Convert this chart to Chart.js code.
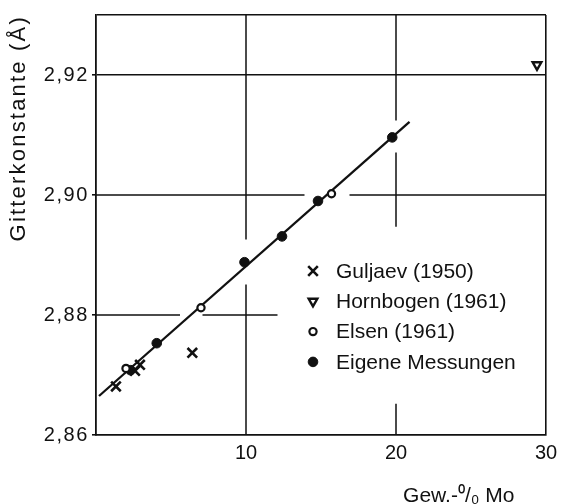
<!DOCTYPE html>
<html>
<head>
<meta charset="utf-8">
<script src="https://cdn.jsdelivr.net/npm/chart.js@4/dist/chart.umd.min.js"></script>
<style>
  html, body { margin: 0; padding: 0; background: #fff; }
  #wrap { width: 564px; height: 504px; }
</style>
</head>
<body>
<div id="wrap"><canvas id="chart"></canvas></div>
<script>
// ================= Data =================
const guljaevX = [1.33, 2.6, 2.93, 6.42];
const guljaevY = [2.8681, 2.8707, 2.8717, 2.8737];

const hornbogenX = [29.4];
const hornbogenY = [2.9217];

const elsenX = [2.0, 7.0, 15.7];
const elsenY = [2.8711, 2.8812, 2.9002];

const eigeneX = [2.3, 4.05, 9.9, 12.4, 14.8, 19.75];
const eigeneY = [2.8708, 2.8753, 2.8888, 2.8931, 2.899, 2.9096];

// fitted line (end points)
const fitX = [0.2, 20.9];
const fitY = [2.8665, 2.9122];

// broken grid lines, [x1, y1, x2, y2] in axis units
const gridSegments = [
  [0, 2.90, 13.9, 2.90],
  [16.9, 2.90, 30, 2.90],
  [0, 2.88, 5.6, 2.88],
  [7.1, 2.88, 12.1, 2.88],
  [10, 2.93, 10, 2.8926],
  [10, 2.8851, 10, 2.86],
  [20, 2.93, 20, 2.9124],
  [20, 2.9071, 20, 2.8947],
  [20, 2.8652, 20, 2.86]
];

const legendLabels = ["Guljaev (1950)", "Hornbogen (1961)", "Elsen (1961)", "Eigene Messungen"];
const xTicks = [10, 20, 30];
const yTicks = [2.86, 2.88, 2.90, 2.92];

const ink = "#111";
const fontFamily = "'Liberation Sans', Arial, sans-serif";

const zip = (xs, ys) => xs.map((x, i) => ({ x, y: ys[i] }));

const gridData = [];
gridSegments.forEach(s => {
  gridData.push({ x: s[0], y: s[1] }, { x: s[2], y: s[3] }, { x: s[2], y: null });
});

// loose tracking like the printed figure (title + tick labels of the y axis)
function spaced(scale, method, px) {
  if (scale["_sp_" + method]) return;
  const orig = scale[method];
  scale[method] = function () {
    this.ctx.save();
    this.ctx.letterSpacing = px;
    orig.apply(this, arguments);
    this.ctx.restore();
  };
  scale["_sp_" + method] = true;
}

// ================= Datasets =================
const pointSets = [
  { label: legendLabels[0], data: zip(guljaevX, guljaevY), pointStyle: "crossRot", pointRadius: 6.8, pointBorderWidth: 2.6, pointBackgroundColor: ink },
  { label: legendLabels[1], data: zip(hornbogenX, hornbogenY), pointStyle: "triangle", pointRotation: 180, pointRadius: 5, pointBorderWidth: 2.4, pointBackgroundColor: "#fff" },
  { label: legendLabels[2], data: zip(elsenX, elsenY), pointStyle: "circle", pointRadius: 3.6, pointBorderWidth: 2.2, pointBackgroundColor: "#fff" },
  { label: legendLabels[3], data: zip(eigeneX, eigeneY), pointStyle: "circle", pointRadius: 4.8, pointBorderWidth: 1, pointBackgroundColor: ink }
].map(d => Object.assign({ type: "scatter", showLine: false, pointBorderColor: ink, pointHoverRadius: d.pointRadius, isLegend: true }, d));

const datasets = pointSets.concat([
  { type: "line", label: "fit", data: zip(fitX, fitY), borderColor: ink, borderWidth: 2.3, pointRadius: 0, tension: 0 },
  { type: "line", label: "grid", data: gridData, borderColor: ink, borderWidth: 1.5, pointRadius: 0, spanGaps: false, tension: 0 }
]);

// ================= Legend inside plot =================
const insideLegend = {
  id: "insideLegend",
  afterDatasetsDraw(chart) {
    const ctx = chart.ctx;
    const area = chart.chartArea;
    const markX = area.left + 217;
    const textX = area.left + 240;
    let y = area.top + 256;
    ctx.save();
    ctx.font = "21px " + fontFamily;
    ctx.textBaseline = "middle";
    ctx.textAlign = "left";
    chart.data.datasets.filter(d => d.isLegend).forEach(d => {
      ctx.fillStyle = d.pointBackgroundColor;
      ctx.strokeStyle = ink;
      ctx.lineWidth = d.pointBorderWidth;
      Chart.helpers.drawPoint(ctx, {
        pointStyle: d.pointStyle,
        rotation: d.pointRotation || 0,
        radius: d.pointRadius,
        borderWidth: d.pointBorderWidth
      }, markX, y);
      ctx.fillStyle = ink;
      ctx.fillText(d.label, textX, y + 1);
      y += 30.3;
    });
    ctx.restore();
  }
};

// ================= Chart =================
new Chart(document.getElementById("chart"), {
  type: "scatter",
  data: { datasets },
  plugins: [insideLegend],
  options: {
    responsive: true,
    maintainAspectRatio: false,
    animation: false,
    layout: { padding: { top: 12, right: 18, left: 0, bottom: 0 } },
    plugins: { legend: { display: false }, tooltip: { enabled: false } },
    scales: {
      x: {
        type: "linear",
        min: 0, max: 30,
        afterBuildTicks: s => { s.ticks = [0].concat(xTicks).map(v => ({ value: v })); },
        afterFit: s => { s.height = 69; },
        grid: {
          drawTicks: false,
          lineWidth: 1.6,
          color: c => (c.tick && c.tick.value === 30 ? ink : "rgba(0,0,0,0)")
        },
        border: { display: true, color: ink, width: 1.8 },
        ticks: {
          color: ink,
          padding: 6,
          maxRotation: 0,
          font: { family: fontFamily, size: 20 },
          callback: v => (xTicks.includes(v) ? String(v) : "")
        },
        title: {
          display: true,
          text: "Gew.-\u2070/\u2080 Mo\u2002\u2002\u2002",
          align: "end",
          color: ink,
          font: { family: fontFamily, size: 21, lineHeight: 1 },
          padding: { top: 0, bottom: -3 }
        }
      },
      y: {
        type: "linear",
        min: 2.86, max: 2.93,
        afterBuildTicks: s => { s.ticks = yTicks.concat([2.93]).map(v => ({ value: v })); },
        afterFit: s => {
          s.width = 96;
          spaced(s, "drawTitle", "2.2px");
          spaced(s, "drawLabels", "1.6px");
        },
        grid: {
          tickLength: 4,
          lineWidth: 1.6,
          tickColor: c => (c.tick && c.tick.value < 2.925 ? ink : "rgba(0,0,0,0)"),
          color: c => (c.tick && c.tick.value > 2.91 ? ink : "rgba(0,0,0,0)")
        },
        border: { display: true, color: ink, width: 1.8 },
        ticks: {
          color: ink,
          padding: 3,
          font: { family: fontFamily, size: 20 },
          callback: v => (v < 2.925 ? v.toFixed(2).replace(".", ",") : "")
        },
        title: {
          display: true,
          text: "Gitterkonstante (Å)",
          align: "end",
          color: ink,
          font: { family: fontFamily, size: 22, lineHeight: 1.2 },
          padding: { top: 6, bottom: 0 }
        }
      }
    }
  }
});
</script>
</body>
</html>
